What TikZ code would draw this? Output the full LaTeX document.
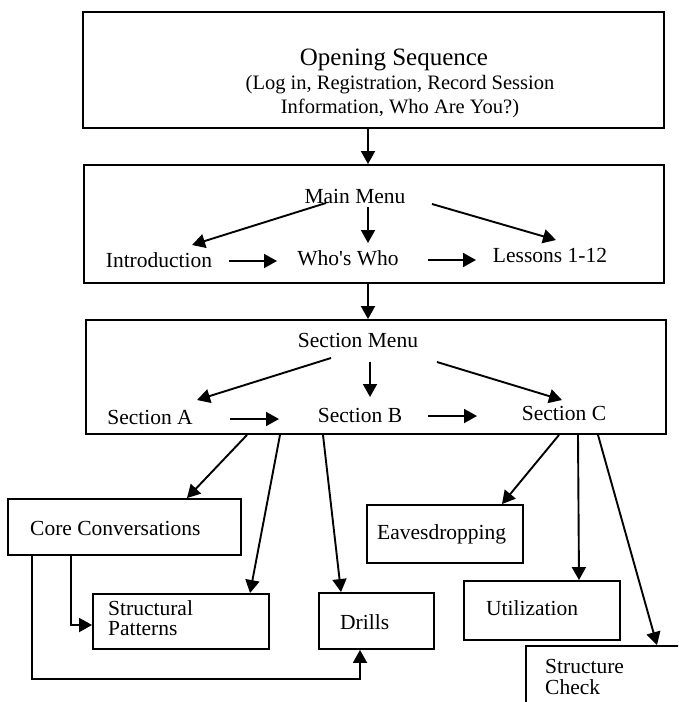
\documentclass[tikz,border=0pt]{standalone}
\usepackage{fontspec}
\setmainfont{Liberation Serif}[Ligatures=TeXOff]
\usetikzlibrary{arrows.meta}
\tikzset{
  box/.style={draw, line width=1.9pt, inner sep=0pt},
  lbl/.style={font=\fontsize{21.5}{22}\selectfont, inner sep=0pt},
  arr/.style={line width=1.9pt, -{Triangle[length=13pt,width=14pt]}},
}
\begin{document}
\begin{tikzpicture}[x=1pt,y=-1pt]
\clip (0,0) rectangle (678,702);
\fill[white] (0,0) rectangle (678,702);
% boxes
\node[box, minimum width=581pt, minimum height=116pt] (open) at (373.5,70) {};
\node[box, minimum width=580pt, minimum height=118pt] (main) at (374,224) {};
\node[box, minimum width=580pt, minimum height=114pt] (sec) at (376,377) {};
\node[box, minimum width=233pt, minimum height=56pt] (core) at (124.5,527) {};
\node[box, minimum width=176pt, minimum height=55pt] (struct) at (181,621.5) {};
\node[box, minimum width=115pt, minimum height=56pt] (drills) at (376.5,621) {};
\node[box, minimum width=156pt, minimum height=58pt] (eaves) at (445,534) {};
\node[box, minimum width=156pt, minimum height=59pt] (util) at (542,610.5) {};
\node[box, minimum width=200pt, minimum height=120pt] (check) at (626,706) {};
% texts
\node[lbl, font=\fontsize{25}{25}\selectfont] (openT) at (394,60) {Opening Sequence};
\node[lbl, font=\fontsize{20.5}{20}\selectfont] (openL2) at (400,85) {(Log in, Registration, Record Session};
\node[lbl, font=\fontsize{20.5}{20}\selectfont] (openL3) at (400,108) {Information, Who Are You?)};
\node[lbl] (mmT) at (355,196) {Main Menu};
\node[lbl] (introT) at (159,260) {Introduction};
\node[lbl] (whoT) at (348,258) {Who's Who};
\node[lbl] (lessT) at (550,255) {Lessons 1-12};
\node[lbl] (smT) at (358,340) {Section Menu};
\node[lbl] (aT) at (150,417) {Section A};
\node[lbl] (bT) at (360,415) {Section B};
\node[lbl] (cT) at (564,413) {Section C};
\node[lbl, anchor=west] (coreT) at (30,528) {Core Conversations};
\node[lbl, anchor=west, align=left, font=\fontsize{21.5}{20}\selectfont] (structT) at (108,618) {Structural\\Patterns};
\node[lbl, anchor=west] (drillsT) at (340,622) {Drills};
\node[lbl, anchor=west] (eavesT) at (377,534) {Eavesdropping};
\node[lbl, anchor=west] (utilT) at (486,608) {Utilization};
\node[lbl, anchor=west, align=left, font=\fontsize{21.5}{21}\selectfont] (checkT) at (545,677) {Structure\\Check};
% arrow end points
\coordinate (m1) at (326,203); \coordinate (m1e) at (192,245);
\coordinate (m2) at (368,207); \coordinate (m2e) at (368,243);
\coordinate (m3) at (432,204); \coordinate (m3e) at (556,240);
\coordinate (h1) at (229,261); \coordinate (h1e) at (277,261);
\coordinate (h2) at (428,260); \coordinate (h2e) at (476,260);
\coordinate (s1) at (331,358); \coordinate (s1e) at (197,400);
\coordinate (s2) at (370,362); \coordinate (s2e) at (370,397);
\coordinate (s3) at (437,362); \coordinate (s3e) at (562,400);
\coordinate (g1) at (230,419); \coordinate (g1e) at (279,419);
\coordinate (g2) at (428,416); \coordinate (g2e) at (477,416);
% connectors
\draw[arr] (open.south -| 368,0) -- (main.north -| 368,0);
\draw[arr] (main.south -| 368,0) -- (sec.north -| 368,0);
\draw[arr] (m1) -- (m1e);
\draw[arr] (m2) -- (m2e);
\draw[arr] (m3) -- (m3e);
\draw[arr] (h1) -- (h1e);
\draw[arr] (h2) -- (h2e);
\draw[arr] (s1) -- (s1e);
\draw[arr] (s2) -- (s2e);
\draw[arr] (s3) -- (s3e);
\draw[arr] (g1) -- (g1e);
\draw[arr] (g2) -- (g2e);
\draw[arr] (sec.south -| 247,0) -- (core.north -| 187,0);
\draw[arr] (sec.south -| 280,0) -- (struct.north -| 250,0);
\draw[arr] (sec.south -| 323,0) -- (drills.north -| 341,0);
\draw[arr] (sec.south -| 559,0) -- (eaves.north -| 502,0);
\draw[arr] (sec.south -| 578,0) -- (util.north -| 579,0);
\draw[arr] (sec.south -| 598,0) -- (check.north -| 657,0);
\draw[arr] (core.south -| 71,0) |- (struct.west |- 0,625);
\draw[arr] (core.south -| 32,0) -- (32,679) -| (drills.south -| 360,0);
\end{tikzpicture}
\end{document}
